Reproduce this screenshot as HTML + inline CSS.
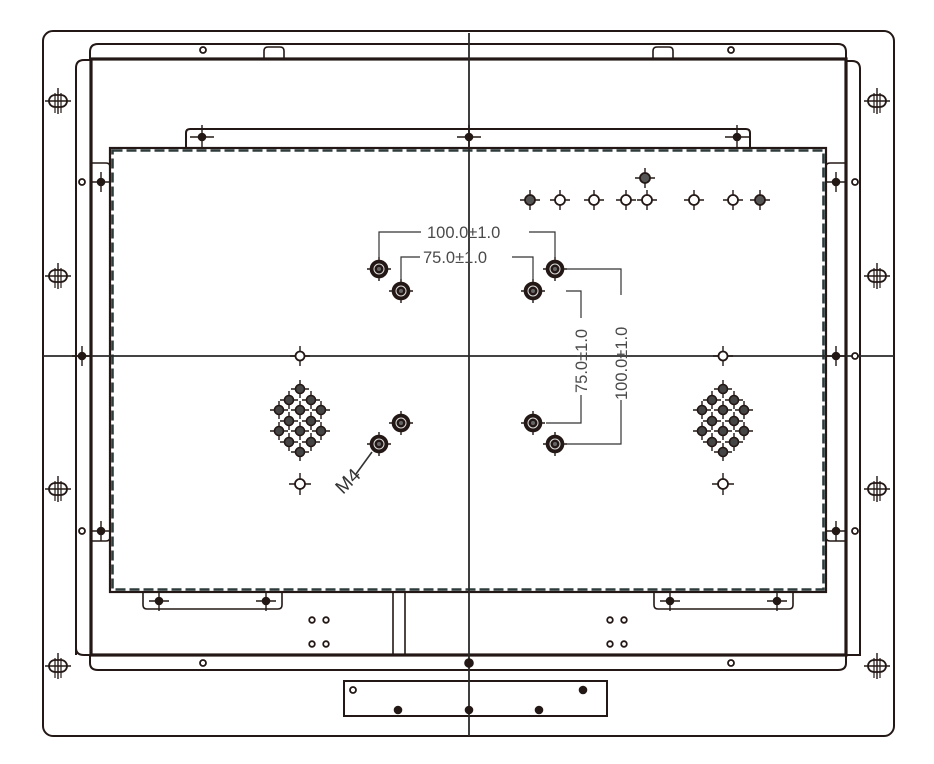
<!DOCTYPE html>
<html><head><meta charset="utf-8"><style>html,body{margin:0;padding:0;background:#fff}svg{display:block}</style></head>
<body>
<svg id="s" width="934" height="764" viewBox="0 0 934 764" xmlns="http://www.w3.org/2000/svg" fill="none" stroke="#231815" font-family="Liberation Sans, sans-serif">
<rect x="43" y="31" width="851" height="705" rx="10" stroke-width="2"/>
<path d="M90 59 V52 Q90 44 98 44 H838 Q846 44 846 52 V59" stroke-width="2"/>
<path d="M90 655 V663 Q90 670 98 670 H838 Q846 670 846 663 V655" stroke-width="2"/>
<path d="M76 655 V68 Q76 60 84 60 H91 M846 61 H852 Q860 61 860 69 V655 H846" stroke-width="2"/>
<path d="M76 648 Q76 655 84 655 H91" stroke-width="2"/>
<rect x="91" y="59" width="755" height="596" stroke-width="3.2"/>
<path d="M264 59 V51 Q264 47 268 47 H280 Q284 47 284 51 V59 M653 59 V51 Q653 47 657 47 H669 Q673 47 673 51 V59" stroke-width="1.6"/>
<path d="M186 148 V133 Q186 129 190 129 H746 Q750 129 750 133 V148" stroke-width="2"/>
<rect x="110" y="148" width="716" height="444" stroke-width="2.2"/>
<rect x="112.5" y="150.5" width="711" height="439" stroke="#2f3c3c" stroke-width="2.6" stroke-dasharray="10 4"/>
<path d="M91 163 H106 Q110 163 110 167 M91 541 H106 Q110 541 110 537 M846 163 H830 Q826 163 826 167 M846 541 H830 Q826 541 826 537" stroke-width="1.6"/>
<path d="M143 592 V605 Q143 609 147 609 H278 Q282 609 282 605 V592 M654 592 V605 Q654 609 658 609 H789 Q793 609 793 605 V592" stroke-width="1.6"/>
<path d="M393 592 V655 M405 592 V655" stroke-width="1.6"/>
<rect x="344" y="681" width="263" height="35" stroke-width="2"/>
<path d="M469 33 V736 M43 356 H894" stroke="#2a2a2a" stroke-width="1.8"/>
<g id="g" stroke-width="1.6"></g>
<g fill="#4a4a4a" stroke="none" font-size="16.5">
<text x="427" y="238">100.0±1.0</text>
<text x="423" y="263">75.0±1.0</text>
<text transform="translate(587 393) rotate(-90)">75.0±1.0</text>
<text transform="translate(627 400) rotate(-90)">100.0±1.0</text>
<text transform="translate(343 495) rotate(-45)" font-size="19" fill="#333">M4</text>
</g>
<g stroke="#333" stroke-width="1.2">
<path d="M379 257 V232 H421 M529 232 H555 V257"/>
<path d="M401 280 V257 H420 M512 257 H533 V280"/>
<path d="M566 291 H581 V318 M581 395 V423 H546 M566 269 H621 V295 M621 400 V444 H566"/>
<path d="M356 474 L372 452" stroke-width="1.6"/>
</g>
</svg>
<script>
var g=document.getElementById('g'),h='';
function oc(x,y,r){h+='<circle cx="'+x+'" cy="'+y+'" r="'+(r||3)+'" fill="#fff" stroke-width="1.8"/>';}
function fc(x,y,r){h+='<circle cx="'+x+'" cy="'+y+'" r="'+(r||3.5)+'" fill="#231815"/>';}
function cross(x,y,a){h+='<path stroke-width="1.4" d="M'+(x-a)+' '+y+'H'+(x+a)+'M'+x+' '+(y-a)+'V'+(y+a)+'"/>';}
[101,276,489,666].forEach(function(y){[58,877].forEach(function(x){
h+='<rect x="'+(x-9)+'" y="'+(y-6)+'" width="18" height="12" rx="6" stroke-width="1.8"/>';cross(x,y,13);
h+='<path stroke-width="1.2" d="M'+(x-3)+' '+(y-8)+'V'+(y+12)+'M'+(x+3)+' '+(y-8)+'V'+(y+12)+'"/>';});});
[[203,50],[731,50],[203,663],[731,663],[82,182],[82,356],[82,531],[855,182],[855,356],[855,531]].forEach(function(p){oc(p[0],p[1]);});
fc(469,663,4);fc(469,137);fc(202,137);fc(737,137);cross(469,137,12);cross(202,137,12);cross(737,137,12);
[[101,182],[101,531],[836,182],[836,356],[836,531],[82,356]].forEach(function(p){fc(p[0],p[1]);cross(p[0],p[1],10);});
[[159,601],[266,601],[670,601],[777,601]].forEach(function(p){fc(p[0],p[1]);cross(p[0],p[1],10);});
[312,326,610,624].forEach(function(x){oc(x,620,2.8);oc(x,644,2.8);});
oc(353,690,3);fc(583,690);fc(398,710);fc(539,710);fc(469,710);
[[379,269],[555,269],[379,444],[555,444],[401,291],[533,291],[401,423],[533,423]].forEach(function(p){
cross(p[0],p[1],12);h+='<circle cx="'+p[0]+'" cy="'+p[1]+'" r="8.5" fill="#231815"/><circle cx="'+p[0]+'" cy="'+p[1]+'" r="5" stroke="#ddd" stroke-width="1"/><circle cx="'+p[0]+'" cy="'+p[1]+'" r="2" fill="#666" stroke="none"/>';});
[300,723].forEach(function(c){var rows=[[389,[0]],[400,[-11,11]],[410,[-21,0,21]],[421,[-11,11]],[431,[-21,0,21]],[442,[-11,11]],[452,[0]]];
rows.forEach(function(r){r[1].forEach(function(o){cross(c+o,r[0],9);h+='<circle cx="'+(c+o)+'" cy="'+r[0]+'" r="4.5" fill="#444" stroke-width="1.6"/>';});});
cross(c,356,10);oc(c,356,4.5);cross(c,484,11);oc(c,484,5);});
[530,560,594,626,647,694,733,760].forEach(function(x,i){cross(x,200,10);h+='<circle cx="'+x+'" cy="200" r="5" stroke-width="1.8" fill="'+((i==0||i==7)?'#555':'#fff')+'"/>';});
cross(645,178,10);h+='<circle cx="645" cy="178" r="5" fill="#555" stroke-width="1.8"/>';
g.innerHTML=h;
</script>
</body></html>
